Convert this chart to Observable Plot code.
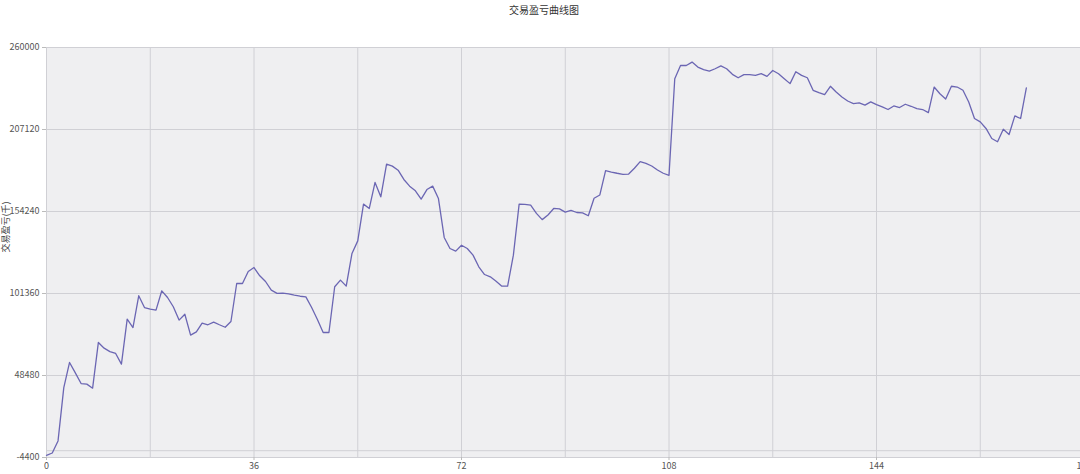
<!DOCTYPE html>
<html><head><meta charset="utf-8">
<script src="https://cdn.jsdelivr.net/npm/d3@7"></script>
<script src="https://cdn.jsdelivr.net/npm/@observablehq/plot@0.6"></script>
<style>
html,body{margin:0;padding:0;background:#fff;overflow:hidden;font-family:"Noto Sans CJK SC","DejaVu Sans",sans-serif;}
#title{height:20px;line-height:20px;text-align:center;font-size:10px;color:#333;padding-left:8px;}
</style></head><body>
<div id="title">交易盈亏曲线图</div>
<div id="chart"></div>
<script>
const titleText = "交易盈亏曲线图";
const yLabel = "交易盈亏(千)";
const pnl = [
  -3000, -1500, 6300, 40700, 56900, 50200, 43300, 42900, 40300, 69800,
  66100, 63900, 62700, 55800, 84800, 79400, 99900, 92300, 91300, 90600,
  103100, 98800, 92800, 84200, 88000, 74500, 76600, 82200, 81200, 82900,
  81200, 79600, 83300, 107800, 107800, 115600, 118100, 112800, 109100, 103500,
  101400, 101600, 101100, 100300, 99600, 99200, 92300, 84600, 76200, 76200,
  105700, 110000, 106100, 127200, 135300, 159000, 156200, 173000, 163700, 184800,
  183500, 180900, 174900, 170600, 167600, 162200, 168400, 170600, 162600, 137500,
  130400, 128700, 132500, 130400, 126100, 118600, 113600, 112100, 109300, 106100,
  106100, 126100, 159000, 158800, 158300, 153000, 149000, 152000, 156200, 155900,
  153800, 154900, 153600, 153400, 151500, 162800, 164900, 180600, 179700, 178900,
  178200, 178400, 182100, 186400, 185300, 183600, 181000, 178900, 177600, 239900,
  248400, 248400, 250600, 247400, 245700, 244800, 246300, 248200, 246300, 242700,
  240500, 242500, 242500, 242000, 243100, 241400, 245200, 243100, 239900, 236700,
  244400, 242000, 240500, 232400, 230900, 229600, 235000, 231300, 228100, 225500,
  223800, 224300, 222800, 224900, 223200, 221700, 220000, 222300, 221300, 223400,
  222100, 220600, 220000, 218000, 234500, 230200, 226800, 235000, 234500, 232400,
  224900, 214200, 212000, 207800, 201300, 199200, 207300, 203900, 215900, 214200,
  233900
];
const yTicks = [-4400, 48480, 101360, 154240, 207120, 260000];
const xTicks = [0, 36, 72, 108, 144, 180];
const xGrid = [0, 18, 36, 54, 72, 90, 108, 126, 144, 162, 180];
const yGrid = [-4400, 0, 48480, 101360, 154240, 207120, 260000];

document.getElementById("title").textContent = titleText;
const data = pnl.map((v, i) => ({step: i, value: v}));

const chart = Plot.plot({
  width: 1080,
  height: 454,
  marginLeft: 46,
  marginRight: 0,
  marginTop: 27,
  marginBottom: 17,
  style: {fontSize: "9px", color: "#555", background: "transparent", fontFamily: "'Noto Sans CJK SC','DejaVu Sans',sans-serif"},
  x: {domain: [0, 180], range: [46, 1083.5]},
  y: {domain: [-4400, 260000]},
  marks: [
    Plot.frame({fill: "#efeff1", stroke: null}),
    Plot.ruleX(xGrid, {stroke: "#d0d0d5", strokeWidth: 1}),
    Plot.ruleY(yGrid, {stroke: "#d0d0d5", strokeWidth: 1}),
    Plot.line(data, {x: "step", y: "value", stroke: "#6b66b3", strokeWidth: 1.3}),
    Plot.axisY({ticks: yTicks, tickFormat: d => String(d), tickSize: 4, tickPadding: 3, stroke: "#bbb", fill: "#555", label: null}),
    Plot.axisX({ticks: xTicks, tickFormat: d => String(d), tickSize: 3, tickPadding: 2, stroke: "#bbb", fill: "#555", label: null}),
    Plot.text([yLabel], {frameAnchor: "left", dx: -40, rotate: -90, fontSize: 9, fill: "#444"})
  ]
});
document.getElementById("chart").appendChild(chart);
</script>
</body></html>
